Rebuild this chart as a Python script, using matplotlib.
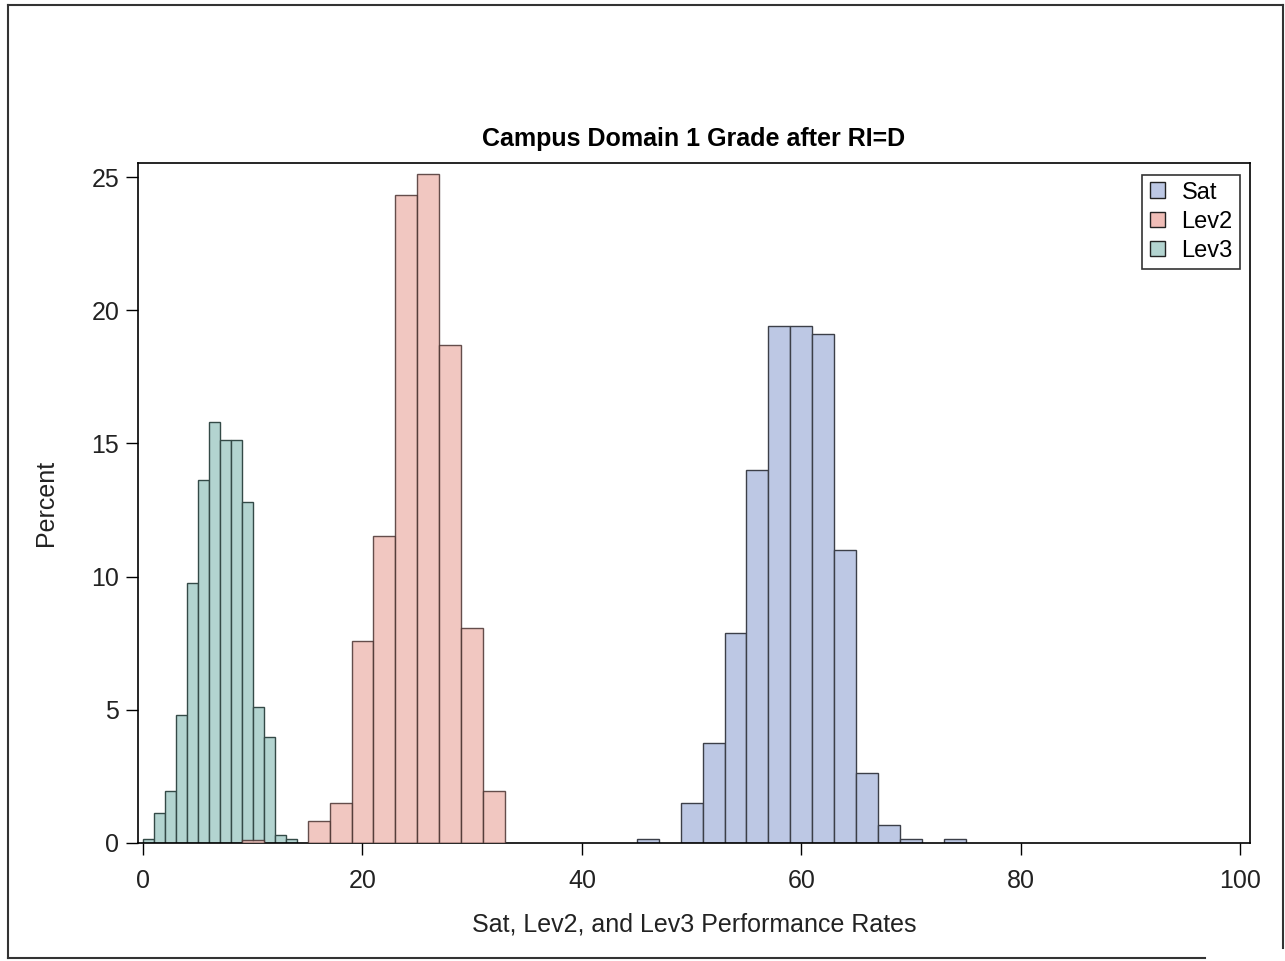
import matplotlib.pyplot as plt
from matplotlib.patches import Patch
from matplotlib.lines import Line2D

plt.rcParams['font.family'] = ['Liberation Sans', 'DejaVu Sans']

# histogram bins (left edge) and percent heights
sat_left = [45, 49, 51, 53, 55, 57, 59, 61, 63, 65, 67, 69, 73]
sat_pct = [0.16, 1.51, 3.75, 7.87, 14.0, 19.4, 19.4, 19.1, 11.0, 2.63, 0.68, 0.16, 0.16]
sat_width = 2

lev2_left = [9, 15, 17, 19, 21, 23, 25, 27, 29, 31]
lev2_pct = [0.13, 0.84, 1.49, 7.57, 11.52, 24.31, 25.11, 18.70, 8.07, 1.94]
lev2_width = 2

lev3_left = [0, 1, 2, 3, 4, 5, 6, 7, 8, 9, 10, 11, 12, 13]
lev3_pct = [0.16, 1.14, 1.96, 4.80, 9.75, 13.63, 15.80, 15.13, 15.13, 12.80, 5.09, 3.97, 0.30, 0.14]
lev3_width = 1

names = ['Sat', 'Lev2', 'Lev3']
colors = ['#bdc8e4', '#efbdb7', '#b3d4d0']
edge = '#3c3f48'

fig = plt.figure(figsize=(12.85, 9.61), dpi=100)
ax = fig.add_axes([0.1074, 0.1228, 0.8654, 0.7076])

ax.bar(sat_left, sat_pct, width=sat_width, align='edge', color=colors[0],
       edgecolor=edge, linewidth=1.0, zorder=2)
ax.bar(lev3_left, lev3_pct, width=lev3_width, align='edge', color=colors[2],
       edgecolor='#344a47', linewidth=1.0, zorder=2)
ax.bar(lev2_left, lev2_pct, width=lev2_width, align='edge', color=colors[1],
       edgecolor='#4a3331', linewidth=1.0, alpha=0.85, zorder=3)

ax.set_xlim(-0.46, 100.9)
ax.set_ylim(0, 25.53)
ax.set_xticks([0, 20, 40, 60, 80, 100])
ax.set_yticks([0, 5, 10, 15, 20, 25])
ax.tick_params(direction='out', length=8.5, width=1, labelsize=18, color='black',
               pad=5, labelcolor='#222222')
ax.tick_params(axis='x', pad=10)
for s in ax.spines.values():
    s.set_linewidth(1.2)

ax.set_xlabel('Sat, Lev2, and Lev3 Performance Rates', fontsize=18, labelpad=14,
              color='#222222')
ax.set_ylabel('Percent', fontsize=18, labelpad=24, color='#222222')
ax.set_title('Campus Domain 1 Grade after RI=D', fontsize=18, fontweight='bold', pad=12)

handles = [Patch(facecolor=c, edgecolor='#222222', linewidth=1.0) for c in colors]
leg = ax.legend(handles, names, loc='upper right', fontsize=17, frameon=True,
                fancybox=False, edgecolor='black', handlelength=0.65, handleheight=0.65,
                handletextpad=0.7, borderpad=0.3, labelspacing=0.3,
                borderaxespad=0.2, bbox_to_anchor=(0.995, 0.99))
leg.get_frame().set_linewidth(1.2)

# outer border of the picture
fig.add_artist(Line2D([8 / 1285, 1283 / 1285], [1 - 5 / 961, 1 - 5 / 961],
                      transform=fig.transFigure, color='#333333', lw=1.5))
fig.add_artist(Line2D([8 / 1285, 8 / 1285], [1 - 5 / 961, 1 - 958 / 961],
                      transform=fig.transFigure, color='#333333', lw=1.5))
fig.add_artist(Line2D([8 / 1285, 1205 / 1285], [1 - 958 / 961, 1 - 958 / 961],
                      transform=fig.transFigure, color='#333333', lw=1.5))
fig.add_artist(Line2D([1283 / 1285, 1283 / 1285], [1 - 5 / 961, 1 - 948 / 961],
                      transform=fig.transFigure, color='#333333', lw=1.5))

fig.savefig('out.png', dpi=100)
